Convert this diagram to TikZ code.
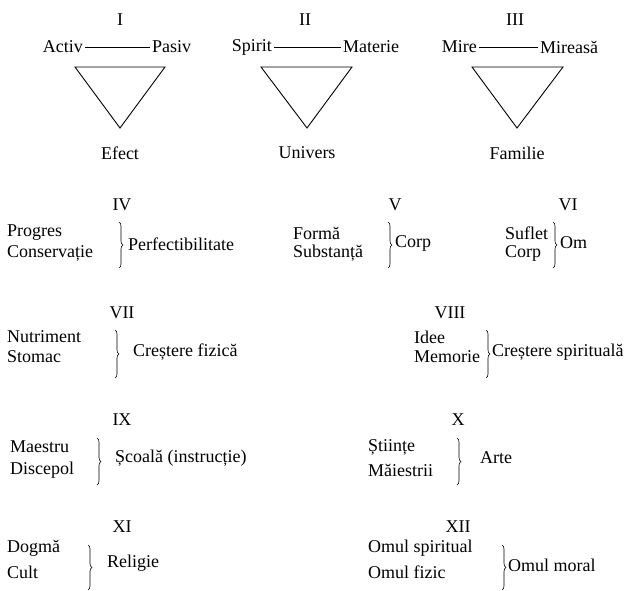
\documentclass[tikz,border=0pt]{standalone}
\usepackage{fontspec}
\setmainfont{Liberation Serif}
\usetikzlibrary{decorations.pathreplacing}
\tikzset{
  txt/.style={font=\fontsize{18}{21}\selectfont, inner sep=2pt},
  lft/.style={txt, anchor=west},
  rgt/.style={txt, anchor=east},
  curly/.style={decorate, decoration={brace, amplitude=4pt}, line width=0.6pt},
  tri/.style={line width=0.9pt, line join=miter}
}
\begin{document}
\begin{tikzpicture}[x=1pt, y=-1pt]
      \useasboundingbox (0,0) rectangle (629,591);
      \draw
        (120,20) node[txt] (r1){I}
        (305,20) node[txt] (r2){II}
        (515,20) node[txt] (r3){III}
        (85,47) node[rgt] (activ){Activ}
        (150,47) node[lft] (pasiv){Pasiv}
        (274,47) node[rgt] (spirit){Spirit}
        (341,47) node[lft] (materie){Materie}
        (479,47) node[rgt] (mire){Mire}
        (538,47) node[lft] (mireasa){Mireasă}
        (120,153) node[txt] (efect){Efect}
        (307,153) node[txt] (univers){Univers}
        (517,153) node[txt] (familie){Familie};
      \coordinate (t1a) at (75,67);
      \coordinate (t1b) at (165,67);
      \coordinate (t1c) at (120,128);
      \coordinate (t2a) at (261,67);
      \coordinate (t2b) at (352,67);
      \coordinate (t2c) at (307,128);
      \coordinate (t3a) at (472,67);
      \coordinate (t3b) at (563,67);
      \coordinate (t3c) at (517,128);
      \begin{scope}[line width=0.6pt]
        \draw (activ) to (pasiv);
        \draw (spirit) to (materie);
        \draw (mire) to (mireasa);
      \end{scope}
      \begin{scope}[tri]
        \draw (t1a) -- (t1b) -- (t1c) -- cycle;
        \draw (t2a) -- (t2b) -- (t2c) -- cycle;
        \draw (t3a) -- (t3b) -- (t3c) -- cycle;
      \end{scope}
      \draw
        (122,205) node[txt] (r4){IV}
        (5,233) node[lft] (progres){Progres}
        (5,253) node[lft] (conserv){Conservație}
        (126,244) node[lft] (perfect){Perfectibilitate}
        (395,205) node[txt] (r5){V}
        (291,233) node[lft] (forma){Formă}
        (291,253) node[lft] (subst){Substanță}
        (393,243) node[lft] (corp){Corp}
        (568,205) node[txt] (r6){VI}
        (503,233) node[lft] (suflet){Suflet}
        (503,253) node[lft] (corp2){Corp}
        (558,243) node[lft] (om){Om}
        (122,313) node[txt] (r7){VII}
        (5,337) node[lft] (nutr){Nutriment}
        (5,357) node[lft] (stomac){Stomac}
        (131,352) node[lft] (crfiz){Creștere fizică}
        (450,313) node[txt] (r8){VIII}
        (412,337) node[lft] (idee){Idee}
        (412,357) node[lft] (memorie){Memorie}
        (490,352) node[lft] (crspir){Creștere spirituală}
        (122,420) node[txt] (r9){IX}
        (8,447) node[lft] (maestru){Maestru}
        (8,470) node[lft] (discepol){Discepol}
        (113,458) node[lft] (scoala){Școală (instrucție)}
        (458,420) node[txt] (r10){X}
        (366,447) node[lft] (stiinte){Științe}
        (366,470) node[lft] (maiestrii){Măiestrii}
        (478,458) node[lft] (arte){Arte}
        (122,527) node[txt] (r11){XI}
        (5,548) node[lft] (dogma){Dogmă}
        (5,572) node[lft] (cult){Cult}
        (105,563) node[lft] (religie){Religie}
        (458,527) node[txt] (r12){XII}
        (366,548) node[lft] (omsp){Omul spiritual}
        (366,572) node[lft] (omfiz){Omul fizic}
        (506,565) node[lft] (ommor){Omul moral};
      \coordinate (b4a) at (119,222);
      \coordinate (b4b) at (119,268);
      \coordinate (b5a) at (388,222);
      \coordinate (b5b) at (388,268);
      \coordinate (b6a) at (553,222);
      \coordinate (b6b) at (553,268);
      \coordinate (b7a) at (115,330);
      \coordinate (b7b) at (115,378);
      \coordinate (b8a) at (486,330);
      \coordinate (b8b) at (486,378);
      \coordinate (b9a) at (97,438);
      \coordinate (b9b) at (97,485);
      \coordinate (b10a) at (457,438);
      \coordinate (b10b) at (457,485);
      \coordinate (b11a) at (88,545);
      \coordinate (b11b) at (88,590);
      \coordinate (b12a) at (502,545);
      \coordinate (b12b) at (502,590);
      \draw[curly] (b4a) -- (b4b);
      \draw[curly] (b5a) -- (b5b);
      \draw[curly] (b6a) -- (b6b);
      \draw[curly] (b7a) -- (b7b);
      \draw[curly] (b8a) -- (b8b);
      \draw[curly] (b9a) -- (b9b);
      \draw[curly] (b10a) -- (b10b);
      \draw[curly] (b11a) -- (b11b);
      \draw[curly] (b12a) -- (b12b);
    \end{tikzpicture}
\end{document}
